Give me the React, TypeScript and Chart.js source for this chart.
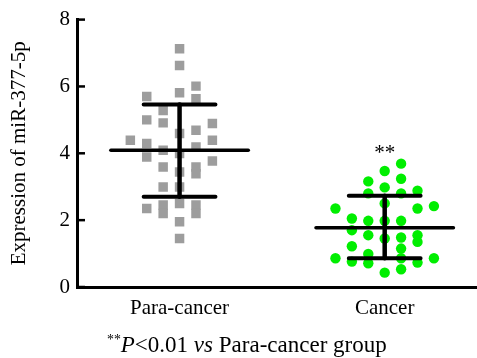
import React, { useEffect, useRef } from "react";
import { Chart, registerables } from "chart.js";

Chart.register(...registerables);

const categories = ["Para-cancer", "Cancer"];
const groupCenters = [1, 3];
const slotStep = 0.16;

const paraValues = [
  7.13, 6.63, 5.7, 5.81, 6.01, 5.63, 5.28, 5.0, 4.91, 4.59, 4.69, 4.89, 4.39, 4.39, 4.29,
  3.89, 4.09, 3.99, 4.19, 3.77, 3.59, 3.44, 3.59, 3.39, 2.99, 2.99, 2.35, 2.45, 2.2, 2.5,
  2.45, 2.2, 1.95, 1.45,
];
const paraSlots = [
  0, 0, -2, 0, 1, 1, -1, -2, -1, 0, 1, 2, 2, -3, -2,
  -2, -1, 0, 1, 2, -1, 0, 1, 1, -1, 0, -2, -1, -1, 0,
  1, 1, 0, 0,
];

const cancerValues = [
  3.69, 3.47, 3.24, 3.16, 2.98, 2.88, 2.8, 2.8, 2.35, 2.35, 2.42, 2.5, 2.05, 1.98, 1.98,
  1.98, 1.7, 1.55, 1.48, 1.55, 1.35, 1.45, 1.22, 1.15, 0.86, 0.76, 0.99, 0.71, 0.86, 0.73,
  0.86, 0.43, 0.53,
];
const cancerSlots = [
  1, 0, 1, -1, 0, 2, -1, 1, -3, 2, 3, 0, -2, -1, 0,
  1, -2, -1, 1, 2, 2, 0, -2, 1, -3, -2, -1, -1, 1, 2,
  3, 0, 1,
];

const meanValues = [4.09, 1.77];
const sdUpper = [5.46, 2.73];
const sdLower = [2.7, 0.86];
const yTicks = [0, 2, 4, 6, 8];
const significance = ["", "**"];

const FONT = '"Liberation Serif", "Times New Roman", serif';

export default function App() {
  const canvasRef = useRef<HTMLCanvasElement | null>(null);

  useEffect(() => {
    document.body.style.margin = "0";
    const canvas = canvasRef.current;
    if (!canvas) return;

    const errorBars = {
      id: "errorBars",
      afterDatasetsDraw(chart: any) {
        const ctx = chart.ctx;
        const xs = chart.scales.x;
        const ys = chart.scales.y;
        ctx.save();
        ctx.strokeStyle = "#000";
        ctx.lineCap = "round";
        groupCenters.forEach((c, i) => {
          const xc = xs.getPixelForValue(c);
          const meanL = xs.getPixelForValue(c - 0.67);
          const meanR = xs.getPixelForValue(c + 0.67);
          const capL = xs.getPixelForValue(c - 0.35);
          const capR = xs.getPixelForValue(c + 0.35);
          const yMean = ys.getPixelForValue(meanValues[i]);
          const yUp = ys.getPixelForValue(sdUpper[i]);
          const yLo = ys.getPixelForValue(sdLower[i]);
          ctx.lineWidth = 4.5;
          ctx.beginPath();
          ctx.moveTo(xc, yUp);
          ctx.lineTo(xc, yLo);
          ctx.stroke();
          ctx.lineWidth = 4;
          ctx.beginPath();
          ctx.moveTo(capL, yUp);
          ctx.lineTo(capR, yUp);
          ctx.moveTo(capL, yLo);
          ctx.lineTo(capR, yLo);
          ctx.stroke();
          ctx.lineWidth = 3.5;
          ctx.beginPath();
          ctx.moveTo(meanL, yMean);
          ctx.lineTo(meanR, yMean);
          ctx.stroke();
          if (significance[i]) {
            const vals = i === 0 ? paraValues : cancerValues;
            const top = ys.getPixelForValue(Math.max(...vals));
            ctx.fillStyle = "#000";
            ctx.font = `21px ${FONT}`;
            ctx.textAlign = "center";
            ctx.textBaseline = "middle";
            ctx.fillText(significance[i], xc, top - 10);
          }
        });
        ctx.restore();
      },
      afterDraw(chart: any) {
        const ctx = chart.ctx;
        const ys = chart.scales.y;
        const left = chart.chartArea.left;
        ctx.save();
        ctx.strokeStyle = "#000";
        ctx.lineWidth = 2.5;
        ys.ticks.forEach((t: any) => {
          const y = ys.getPixelForValue(t.value);
          ctx.beginPath();
          ctx.moveTo(left, y);
          ctx.lineTo(left + 8, y);
          ctx.stroke();
        });
        ctx.restore();
      },
    };

    const chart = new Chart(canvas, {
      type: "scatter",
      data: {
        datasets: [
          {
            label: categories[0],
            data: paraValues.map((v, i) => ({ x: groupCenters[0] + paraSlots[i] * slotStep, y: v })),
            pointStyle: "rect",
            pointRadius: 6.7,
            pointBorderWidth: 0,
            backgroundColor: "#9d9d9d",
            borderColor: "#9d9d9d",
          },
          {
            label: categories[1],
            data: cancerValues.map((v, i) => ({ x: groupCenters[1] + cancerSlots[i] * slotStep, y: v })),
            pointStyle: "circle",
            pointRadius: 5.2,
            pointBorderWidth: 0,
            backgroundColor: "#00ee00",
            borderColor: "#00ee00",
          },
        ],
      },
      plugins: [errorBars],
      options: {
        animation: false,
        responsive: false,
        maintainAspectRatio: false,
        layout: { autoPadding: false, padding: { top: 19, right: 0, bottom: 0, left: 0 } },
        plugins: { legend: { display: false }, tooltip: { enabled: false } },
        scales: {
          x: {
            type: "linear",
            min: 0,
            max: 3.9,
            afterBuildTicks: (scale: any) => {
              scale.ticks = groupCenters.map((v) => ({ value: v }));
            },
            afterFit: (scale: any) => {
              scale.height = 71;
            },
            grid: { display: false, drawTicks: false },
            border: { display: true, color: "#000", width: 3 },
            ticks: {
              autoSkip: false,
              maxRotation: 0,
              padding: 9,
              color: "#000",
              font: { family: FONT, size: 21 },
              callback: (v: any) => {
                const idx = groupCenters.indexOf(Number(v));
                return idx >= 0 ? categories[idx] : "";
              },
            },
          },
          y: {
            min: 0,
            max: 8,
            afterBuildTicks: (scale: any) => {
              scale.ticks = yTicks.map((v) => ({ value: v }));
            },
            afterFit: (scale: any) => {
              scale.width = 77;
            },
            grid: { display: false, drawTicks: false },
            border: { display: true, color: "#000", width: 3 },
            ticks: {
              padding: 7,
              color: "#000",
              font: { family: FONT, size: 21 },
            },
            title: {
              display: true,
              text: "Expression of miR-377-5p",
              color: "#000",
              font: { family: FONT, size: 21 },
              padding: { top: 7, bottom: 0 },
            },
          },
        },
      },
    });
    return () => chart.destroy();
  }, []);

  return (
    <div style={{ position: "relative", width: 477, height: 358, background: "#fff" }}>
      <canvas ref={canvasRef} width={477} height={358} style={{ display: "block" }} />
      <div
        style={{
          position: "absolute",
          left: 107,
          top: 328,
          fontFamily: FONT,
          fontSize: 23,
          lineHeight: "23px",
          color: "#000",
          whiteSpace: "nowrap",
        }}
      >
        <span style={{ fontSize: "0.6em", verticalAlign: "0.55em" }}>**</span>
        <i>P</i>&lt;0.01 <i>vs</i> Para-cancer group
      </div>
    </div>
  );
}
